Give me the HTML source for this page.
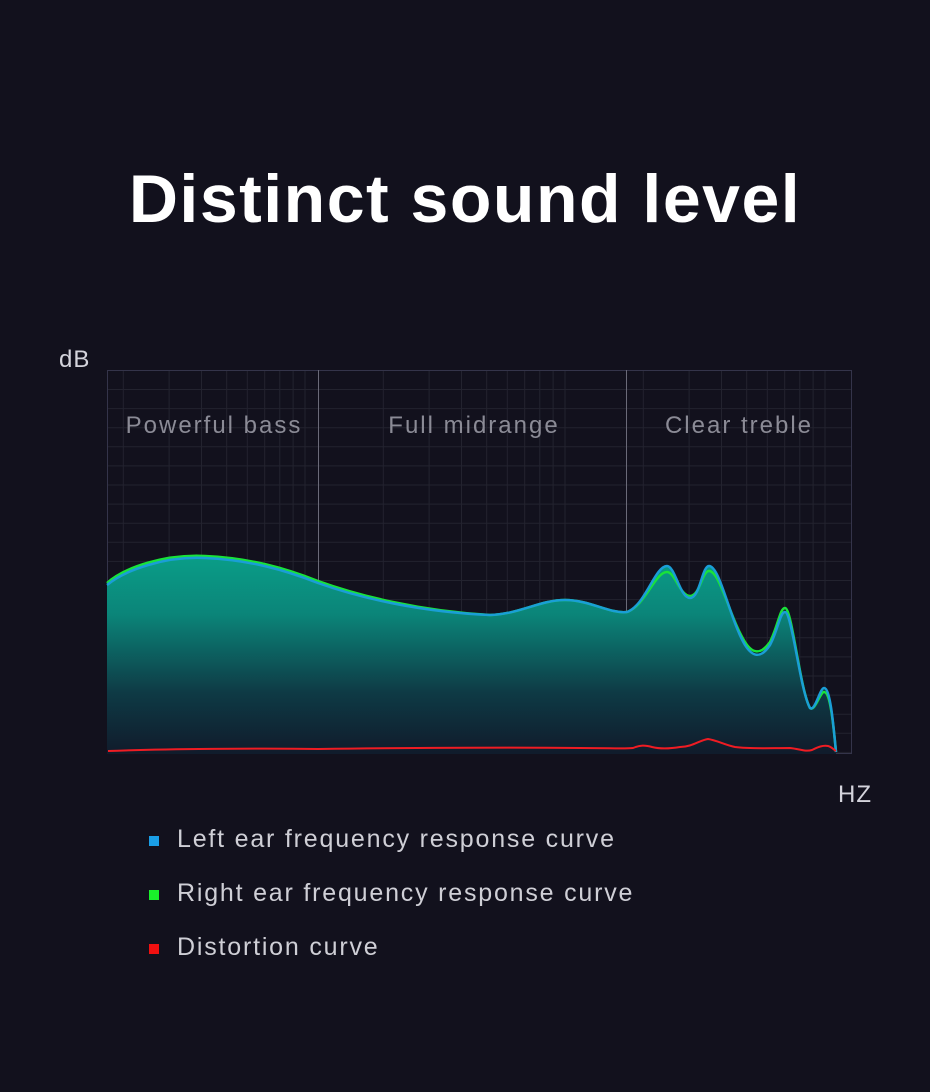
<!DOCTYPE html>
<html><head><meta charset="utf-8"><style>
html,body{margin:0;padding:0;background:#12111d;}
body{width:930px;height:1092px;position:relative;overflow:hidden;font-family:"Liberation Sans",sans-serif;}
.t{position:absolute;left:0;width:930px;text-align:center;top:160px;font-size:68px;font-weight:bold;color:#fff;letter-spacing:1.5px;}
.lab{position:absolute;font-size:24px;color:#d4d4dc;letter-spacing:1px;}
.leg{position:absolute;left:177px;font-size:25px;color:#cfcfd6;letter-spacing:1.8px;}
.sq{position:absolute;left:149px;width:10px;height:10px;}
</style></head><body>
<div class="t">Distinct sound level</div>
<div class="lab" style="left:59px;top:346px;">dB</div>
<div class="lab" style="left:838px;top:781px;">HZ</div>
<svg width="930" height="1092" style="position:absolute;left:0;top:0">
<defs><linearGradient id="g" x1="0" y1="555" x2="0" y2="752" gradientUnits="userSpaceOnUse">
<stop offset="0" stop-color="#0a9e88"/><stop offset="0.3" stop-color="#0b8579"/><stop offset="0.7" stop-color="#0e3a45"/><stop offset="1" stop-color="#101c2c"/></linearGradient></defs>
<g id="grid" stroke="#23232f" stroke-width="1"></g>
<rect x="107.5" y="370.5" width="744" height="383" fill="none" stroke="#34344a"/>
<line x1="318.5" y1="370" x2="318.5" y2="754" stroke="#6a6a78"/>
<line x1="626.5" y1="370" x2="626.5" y2="754" stroke="#6a6a78"/>
<g font-size="24" fill="#8b8b96" text-anchor="middle" font-family="Liberation Sans,sans-serif" letter-spacing="2">
<text x="214" y="433">Powerful bass</text><text x="474" y="433">Full midrange</text><text x="739" y="433">Clear treble</text></g>
<path fill="url(#g)" d="M107,585 C125,570 165,556 205,558 C250,560 285,570 318,583 C360,598 420,612 490,615 C520,614 540,600 565,600 C590,600 610,614 627,612 C645,606 655,566 667,566 C675,566 680,598 690,598 C700,598 702,566 709,566 C720,566 730,620 745,645 C752,656 760,660 770,645 C778,630 780,612 785,612 C792,612 800,690 810,708 C815,712 820,688 824,688 C830,688 833,720 836,752 L836,754 L107,754 Z"/>
<path fill="none" stroke="#19e23a" stroke-width="2.5" d="M107,583 C125,567 165,554 205,556 C250,558 285,568 318,581 C360,596 420,611 490,615 C520,614 540,600 565,600 C590,600 610,614 627,612 C645,606 655,572 667,572 C675,572 680,596 690,596 C700,596 702,571 709,571 C720,571 730,618 745,642 C752,653 760,656 770,642 C778,626 780,608 785,608 C792,608 800,690 810,708 C815,712 820,692 824,692 C830,692 833,720 836,752"/>
<path fill="none" stroke="#1a9ed6" stroke-width="2.5" d="M107,585 C125,570 165,556 205,558 C250,560 285,570 318,583 C360,598 420,612 490,615 C520,614 540,600 565,600 C590,600 610,614 627,612 C645,606 655,566 667,566 C675,566 680,598 690,598 C700,598 702,566 709,566 C720,566 730,620 745,645 C752,656 760,660 770,645 C778,630 780,612 785,612 C792,612 800,690 810,708 C815,712 820,688 824,688 C830,688 833,720 836,752"/>
<path fill="none" stroke="#ef1c23" stroke-width="2" d="M108,751 C160,749 260,748 318,749 C400,748 500,747 580,748 C610,748 625,749 633,748 C640,745 645,745 652,747 C660,749 668,749 680,747 C692,747 700,740 708,739 C716,740 725,745 735,747 C750,749 770,748 790,748 C800,749 805,752 812,750 C818,747 823,745 828,746 C832,747 834,750 836,751"/>
</svg>
<div class="sq" style="top:836px;background:#1a9ee6"></div>
<div class="sq" style="top:890px;background:#19f02a"></div>
<div class="sq" style="top:944px;background:#f01010"></div>
<div class="leg" style="top:825px">Left ear frequency response curve</div>
<div class="leg" style="top:879px">Right ear frequency response curve</div>
<div class="leg" style="top:933px">Distortion curve</div>
<script>
var g=document.getElementById('grid'),s='';
for(var y=389.5;y<754;y+=19.1){s+='<line x1="107" y1="'+y.toFixed(1)+'" x2="851" y2="'+y.toFixed(1)+'"/>';}
var d0=45,w=260;
for(var k=0;k<4;k++)for(var i=1;i<10;i++){var x=d0+k*w+Math.log10(i)*w;if(x>108&&x<851)s+='<line x1="'+x.toFixed(1)+'" y1="370" x2="'+x.toFixed(1)+'" y2="754"/>';}
g.innerHTML=s;
</script>
</body></html>
